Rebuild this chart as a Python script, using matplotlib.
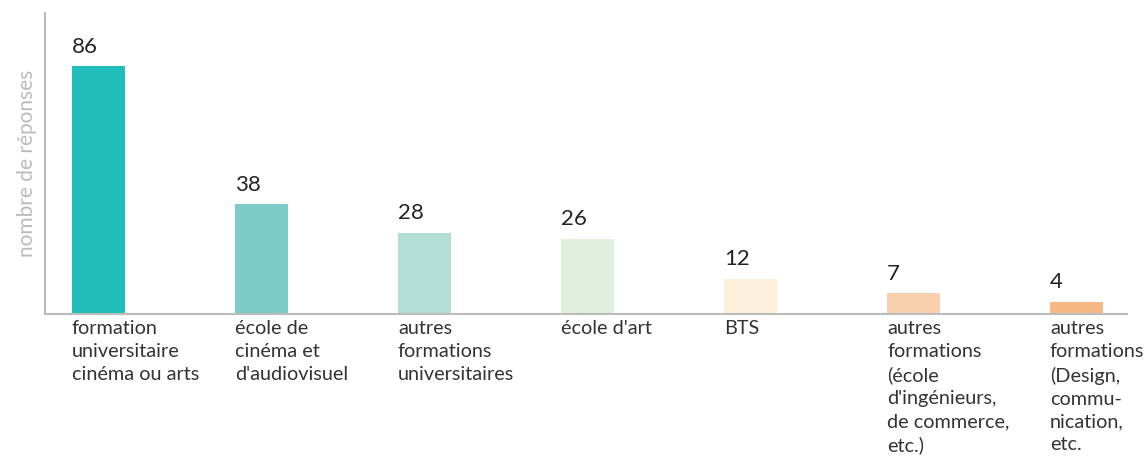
import matplotlib
matplotlib.use("Agg")
import matplotlib.pyplot as plt

categories = [
    "formation\nuniversitaire\ncinéma ou arts",
    "école de\ncinéma et\nd'audiovisuel",
    "autres\nformations\nuniversitaires",
    "école d'art",
    "BTS",
    "autres\nformations\n(école\nd'ingénieurs,\nde commerce,\netc.)",
    "autres\nformations\n(Design,\ncommu-\nnication,\netc.",
]
values = [86, 38, 28, 26, 12, 7, 4]
colors = ["#20BDBA", "#7BCBC7", "#B2DED4", "#E2EFDE", "#FDF0DA", "#F9D0AE", "#F7B983"]

plt.rcParams['font.family'] = ['Lato', 'DejaVu Sans']

fig = plt.figure(figsize=(11.45, 4.62), dpi=100)
ax = fig.add_axes([45/1145, 1 - 313.5/462, (1127-45)/1145, (313.5-13)/462])

width = 53/163
x = list(range(len(values)))
ax.bar(x, values, width=width, color=colors)

ax.set_xlim((45-98.5)/163, (1127-98.5)/163)
ax.set_ylim(0, 300.5/(247/86))

for i, v in enumerate(values):
    ax.annotate(str(v), xy=(i - width/2, v), xytext=(0, 7), textcoords='offset points',
                ha='left', va='bottom', fontsize=16, color='#222222')
    ax.annotate(categories[i], xy=(i - width/2, 0), xycoords=('data', 'axes fraction'),
                xytext=(0, -5), textcoords='offset points', ha='left', va='top',
                fontsize=14.3, color='#333333', linespacing=1.42, annotation_clip=False)

for s in ['top', 'right']:
    ax.spines[s].set_visible(False)
for s in ['left', 'bottom']:
    ax.spines[s].set_color('#BBBBBB')
    ax.spines[s].set_linewidth(1.5)
ax.set_xticks([])
ax.set_yticks([])
ax.set_ylabel("nombre de réponses", color='#BBBBBB', fontsize=15, labelpad=6)

fig.savefig("out.png", dpi=100)
